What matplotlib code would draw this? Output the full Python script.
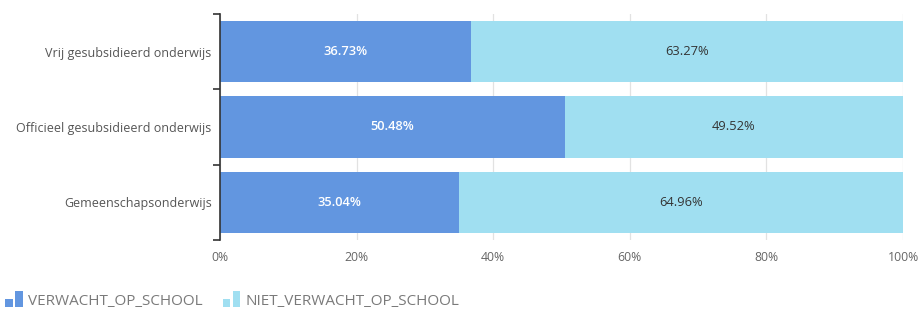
import matplotlib.pyplot as plt
from matplotlib.legend_handler import HandlerBase
from matplotlib.patches import Rectangle
from matplotlib.ticker import FixedLocator, PercentFormatter

plt.rcParams["font.family"] = ["Open Sans", "DejaVu Sans"]

categories = ["Vrij gesubsidieerd onderwijs", "Officieel gesubsidieerd onderwijs", "Gemeenschapsonderwijs"]
verwacht = [36.73, 50.48, 35.04]
niet_verwacht = [63.27, 49.52, 64.96]
series_names = ["VERWACHT_OP_SCHOOL", "NIET_VERWACHT_OP_SCHOOL"]
colors = ["#6296e0", "#a0dff1"]


# legend icon: two little bars, short and tall
class BarIconHandler(HandlerBase):
    def create_artists(self, legend, orig_handle, xdescent, ydescent, width, height, fontsize, trans):
        c = orig_handle.patches[0].get_facecolor()
        w = width * 0.36
        x0, y0 = -xdescent, -ydescent - height * 0.1
        short = Rectangle((x0, y0), w, height * 0.6, facecolor=c, transform=trans)
        tall = Rectangle((x0 + w * 1.4, y0), w, height * 1.2, facecolor=c, transform=trans)
        return [short, tall]


fig = plt.figure(figsize=(9.24, 3.13), dpi=100)
ax = fig.add_axes([0.2381, 0.2332, 0.9773 - 0.2381, 0.9553 - 0.2332])

y = list(range(len(categories)))
b1 = ax.barh(y, verwacht, height=0.81, color=colors[0], label=series_names[0], zorder=2)
b2 = ax.barh(y, niet_verwacht, left=verwacht, height=0.81, color=colors[1], label=series_names[1], zorder=2)

for i in y:
    ax.text(verwacht[i] / 2, i, f"{verwacht[i]:.2f}%", ha="center", va="center",
            color="white", fontsize=9.3, fontweight="semibold", zorder=3)
    ax.text(verwacht[i] + niet_verwacht[i] / 2, i, f"{niet_verwacht[i]:.2f}%", ha="center", va="center",
            color="#333333", fontsize=9.3, zorder=3)

ax.set_xlim(0, 100)
ax.set_ylim(len(categories) - 0.5, -0.5)
ax.xaxis.set_major_locator(FixedLocator([0, 20, 40, 60, 80, 100]))
ax.xaxis.set_major_formatter(PercentFormatter(decimals=0))
ax.grid(axis="x", color="#e2e2e2", linewidth=0.9, zorder=0)
ax.set_axisbelow(True)

ax.set_yticks(y)
ax.set_yticklabels(categories)
ax.yaxis.set_minor_locator(FixedLocator([-0.5, 0.5, 1.5, 2.5]))
ax.tick_params(axis="y", which="major", length=0, pad=6, labelsize=9, labelcolor="#555555")
ax.tick_params(axis="y", which="minor", length=5, width=1.2, color="#333333")
ax.tick_params(axis="x", length=0, pad=8, labelsize=8.8, labelcolor="#666666")

for s in ["top", "right", "bottom"]:
    ax.spines[s].set_visible(False)
ax.spines["left"].set_color("#333333")
ax.spines["left"].set_linewidth(1.2)

fig.legend(handles=[b1, b2], loc="lower left", bbox_to_anchor=(-0.009, -0.03), ncol=2, frameon=False,
           handler_map={b1: BarIconHandler(), b2: BarIconHandler()},
           handlelength=1.3, handleheight=0.95, handletextpad=0.2, columnspacing=1.3,
           prop={"size": 11}, labelcolor="#7a7a7a")

fig.savefig("out.png", dpi=100)
